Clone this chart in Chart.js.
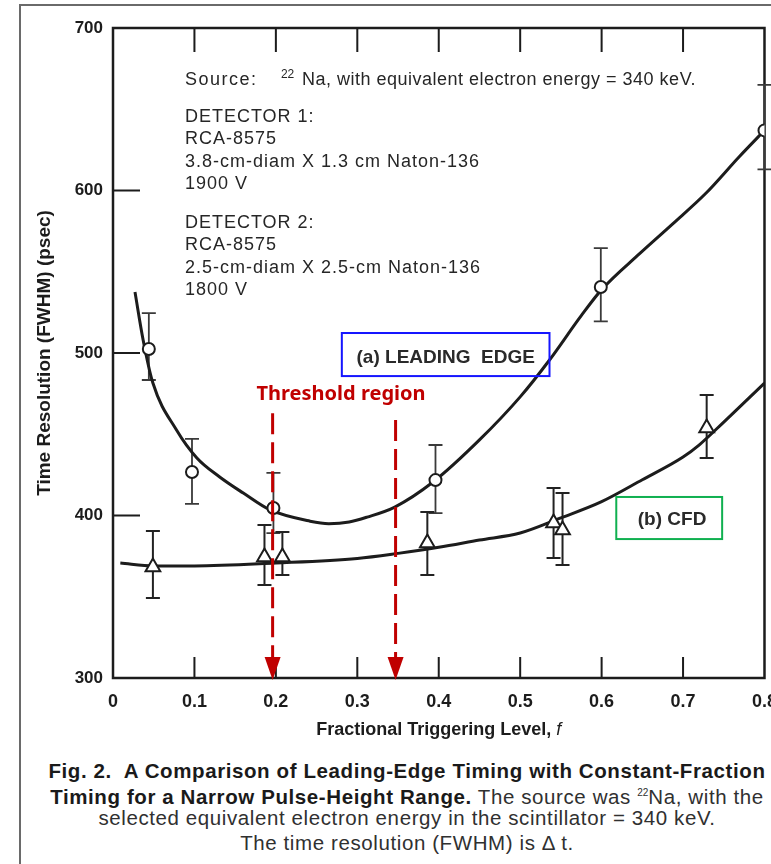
<!DOCTYPE html>
<html>
<head>
<meta charset="utf-8">
<script src="https://cdn.jsdelivr.net/npm/chart.js@4.4.1/dist/chart.umd.min.js"></script>
<style>
html, body { margin: 0; padding: 0; background: #fff; overflow: hidden; }
#page { position: relative; width: 771px; height: 864px; overflow: hidden; background: #fff; }
#frame { position: absolute; left: 19px; top: 4px; width: 800px; height: 900px; border-left: 2px solid #6a6a6a; border-top: 2px solid #6a6a6a; }
#wrap { position: absolute; left: 0; top: 0; width: 790px; height: 750px; }
.cap { position: absolute; left: 30px; width: 754px; text-align: center; white-space: nowrap;
  font-family: "Liberation Sans", Arial, sans-serif; font-size: 20.5px; line-height: 24px;
  letter-spacing: 0.6px; color: #303030; }
.cap b { color: #1a1a1a; }
.cap sup { font-size: 10px; vertical-align: 8px; line-height: 0; letter-spacing: 0; }
</style>
</head>
<body>
<div id="page">
  <div id="frame"></div>
  <div id="wrap"><canvas id="chart" width="790" height="750"></canvas></div>
  <div class="cap" style="top:759px"><b>Fig. 2.&nbsp; A Comparison of Leading-Edge Timing with Constant-Fraction</b></div>
  <div class="cap" style="top:785px"><b>Timing for a Narrow Pulse-Height Range.</b> The source was <sup>22</sup>Na, with the</div>
  <div class="cap" style="top:806px">selected equivalent electron energy in the scintillator = 340 keV.</div>
  <div class="cap" style="top:831px">The time resolution (FWHM) is &Delta; t.</div>
</div>
<script>
// axis ticks
const fTicks = [0, 0.1, 0.2, 0.3, 0.4, 0.5, 0.6, 0.7, 0.8];
const resTicks = [300, 400, 500, 600, 700];

// (a) leading edge - measured points with error bars (psec)
const leF = [0.044, 0.097, 0.197, 0.396, 0.599, 0.8];
const leRes = [502.5, 426.8, 404.6, 421.8, 540.6, 637];
const leLow = [483.4, 407.1, 389.2, 401.5, 519.5, 613];
const leHigh = [524.6, 447.1, 426.2, 443.4, 564.6, 665];

// (b) CFD - measured points with error bars (psec)
const cfdF = [0.049, 0.186, 0.208, 0.386, 0.541, 0.552, 0.729];
const cfdRes = [368.3, 374.5, 374.5, 383.1, 395.4, 391.1, 453.8];
const cfdLow = [349.2, 357.2, 363.4, 363.4, 373.8, 369.5, 435.4];
const cfdHigh = [390.5, 394.2, 389.8, 402.2, 416.9, 413.8, 474.2];

// fitted curves
const leCurveF = [0.027, 0.037, 0.049, 0.078, 0.103, 0.131, 0.16, 0.193, 0.242, 0.265, 0.29, 0.312, 0.346, 0.393, 0.45, 0.5, 0.536, 0.575, 0.6, 0.647, 0.688, 0.728, 0.769, 0.8];
const leCurveRes = [537.5, 508, 481.5, 452.6, 435.4, 423.7, 413.8, 403.4, 396.5, 395, 396, 399, 405.2, 420.6, 446.5, 473, 495.7, 523, 539, 561.3, 579.8, 598.3, 620.8, 637];
const cfdCurveF = [0.009, 0.05, 0.1, 0.2, 0.3, 0.35, 0.4, 0.45, 0.5, 0.55, 0.6, 0.65, 0.7, 0.72, 0.75, 0.8];
const cfdCurveRes = [370.8, 369, 369, 370.8, 373.6, 376.7, 380.4, 384.9, 389.2, 398.5, 408.5, 422, 436, 443.5, 457.5, 481.5];

const SANS = '"Liberation Sans", Arial, Helvetica, sans-serif';
const INK = '#1c1c1c';

function pts(xs, ys) {
    return xs.map((x, i) => ({ x: x, y: ys[i] }));
}

const framePlugin = {
    id: 'frame',
    beforeDatasetsDraw(chart) {
        const ctx = chart.ctx;
        const { left, right, top, bottom } = chart.chartArea;
        const xs = chart.scales.x, ys = chart.scales.y;
        ctx.save();
        ctx.strokeStyle = INK;
        ctx.lineWidth = 2.5;
        ctx.strokeRect(left, top, right - left, bottom - top);
        ctx.lineWidth = 2;
        ctx.beginPath();
        fTicks.slice(1, -1).forEach(v => {
            const x = xs.getPixelForValue(v);
            ctx.moveTo(x, bottom); ctx.lineTo(x, bottom - 21);
            ctx.moveTo(x, top); ctx.lineTo(x, top + 24);
        });
        resTicks.slice(1, -1).forEach(v => {
            const y = ys.getPixelForValue(v);
            ctx.moveTo(left, y); ctx.lineTo(left + 27, y);
        });
        ctx.stroke();

        // error bars
        const bars = (fx, lo, hi, w, col) => {
            ctx.strokeStyle = col;
            ctx.lineWidth = w;
            ctx.beginPath();
            fx.forEach((f, i) => {
                const x = xs.getPixelForValue(f);
                const y1 = ys.getPixelForValue(lo[i]), y2 = ys.getPixelForValue(hi[i]);
                ctx.moveTo(x, y1); ctx.lineTo(x, y2);
                ctx.moveTo(x - 7, y1); ctx.lineTo(x + 7, y1);
                ctx.moveTo(x - 7, y2); ctx.lineTo(x + 7, y2);
            });
            ctx.stroke();
        };
        bars(leF, leLow, leHigh, 1.8, '#3a3a3a');
        bars(cfdF, cfdLow, cfdHigh, 2, '#222');
        ctx.restore();
    },
    afterDatasetsDraw(chart) {
        const ctx = chart.ctx;
        const xs = chart.scales.x, ys = chart.scales.y;
        const X = v => xs.getPixelForValue(v), Y = v => ys.getPixelForValue(v);
        ctx.save();

        // description block
        ctx.fillStyle = '#262626';
        ctx.textBaseline = 'middle';
        ctx.textAlign = 'left';
        ctx.font = '18px ' + SANS;
        const x0 = X(0.0883);
        ctx.letterSpacing = '1.5px';
        ctx.fillText('Source:', x0, Y(668));
        ctx.letterSpacing = '0px';
        ctx.font = '12px ' + SANS;
        ctx.fillText('22', x0 + 96, Y(668) - 5);
        ctx.font = '18px ' + SANS;
        ctx.letterSpacing = '0.5px';
        ctx.fillText('Na, with equivalent electron energy = 340 keV.', x0 + 117, Y(668));
        ctx.letterSpacing = '1px';
        const lines = ['DETECTOR 1:', 'RCA-8575', '3.8-cm-diam X 1.3 cm Naton-136', '1900 V',
                       'DETECTOR 2:', 'RCA-8575', '2.5-cm-diam X 2.5-cm Naton-136', '1800 V'];
        const lineRes = [645.2, 631.7, 617.5, 604, 580, 566.5, 552.3, 538.8];
        lines.forEach((t, i) => ctx.fillText(t, x0, Y(lineRes[i])));
        ctx.letterSpacing = '0px';

        // labelled boxes
        ctx.lineWidth = 2;
        ctx.strokeStyle = '#1515ff';
        ctx.strokeRect(X(0.281), Y(512.3), X(0.536) - X(0.281), Y(485.8) - Y(512.3));
        ctx.strokeStyle = '#10b050';
        ctx.strokeRect(X(0.618), Y(411.4), X(0.748) - X(0.618), Y(385.5) - Y(411.4));
        ctx.fillStyle = '#2a2a2a';
        ctx.textAlign = 'center';
        ctx.font = 'bold 19px ' + SANS;
        ctx.fillText('(a) LEADING  EDGE', X(0.4086), Y(497));
        ctx.fillText('(b) CFD', X(0.6865), Y(397.5));

        // threshold region
        ctx.fillStyle = '#c00000';
        ctx.font = 'bold 20px "Noto Sans", sans-serif';
        ctx.fillText('Threshold region', X(0.280), Y(474.8));

        const arrow = (f, vTop) => {
            const x = X(f), yTop = Y(vTop), yTip = Y(300) + 2;
            ctx.strokeStyle = '#c00000';
            ctx.lineWidth = 3;
            ctx.setLineDash([21, 8]);
            ctx.beginPath();
            ctx.moveTo(x, yTop); ctx.lineTo(x, yTip - 22);
            ctx.stroke();
            ctx.setLineDash([]);
            ctx.beginPath();
            ctx.moveTo(x - 8, yTip - 23); ctx.lineTo(x + 8, yTip - 23); ctx.lineTo(x, yTip);
            ctx.closePath();
            ctx.fill();
        };
        arrow(0.196, 463);
        arrow(0.347, 458.8);

        ctx.restore();
    },
    afterDraw(chart) {
        const ctx = chart.ctx;
        const { left, right } = chart.chartArea;
        ctx.save();
        ctx.fillStyle = INK;
        ctx.textBaseline = 'middle';
        ctx.textAlign = 'left';
        const main = 'Fractional Triggering Level, ';
        ctx.font = 'bold 18px ' + SANS;
        const w1 = ctx.measureText(main).width;
        ctx.font = 'italic 18px ' + SANS;
        const w2 = ctx.measureText('f').width;
        const xs = (left + right) / 2 - (w1 + w2) / 2;
        ctx.font = 'bold 18px ' + SANS;
        ctx.fillText(main, xs, 730);
        ctx.font = 'italic 18px ' + SANS;
        ctx.fillText('f', xs + w1, 730);
        ctx.restore();
    }
};

new Chart(document.getElementById('chart'), {
    type: 'scatter',
    data: {
        datasets: [
            {
                type: 'line', data: pts(leCurveF, leCurveRes), order: 2,
                borderColor: INK, borderWidth: 3, pointRadius: 0, cubicInterpolationMode: 'monotone', fill: false
            },
            {
                type: 'line', data: pts(cfdCurveF, cfdCurveRes), order: 2,
                borderColor: INK, borderWidth: 3, pointRadius: 0, cubicInterpolationMode: 'monotone', fill: false
            },
            {
                data: pts(leF, leRes), order: 1, showLine: false,
                pointStyle: 'circle', pointRadius: 6, pointBackgroundColor: '#fff',
                pointBorderColor: INK, pointBorderWidth: 2
            },
            {
                data: pts(cfdF, cfdRes), order: 1, showLine: false,
                pointStyle: 'triangle', pointRadius: 8.5, pointBackgroundColor: '#fff',
                pointBorderColor: INK, pointBorderWidth: 2
            }
        ]
    },
    options: {
        responsive: false,
        animation: false,
        events: [],
        layout: { padding: { left: 0, top: 28, right: 25, bottom: 0 } },
        plugins: { legend: { display: false }, tooltip: { enabled: false } },
        scales: {
            x: {
                type: 'linear', min: 0, max: 0.8,
                afterBuildTicks: s => { s.ticks = fTicks.map(v => ({ value: v })); },
                afterFit: s => { s.height = 72; },
                grid: { display: false, drawTicks: false },
                border: { display: false },
                ticks: {
                    padding: 13, color: INK, maxRotation: 0,
                    font: { family: SANS, size: 18, weight: 'bold' },
                    callback: v => v === 0 ? '0' : v.toFixed(1)
                }
            },
            y: {
                min: 300, max: 700,
                afterBuildTicks: s => { s.ticks = resTicks.map(v => ({ value: v })); },
                afterFit: s => { s.width = 113; },
                grid: { display: false, drawTicks: false },
                border: { display: false },
                ticks: {
                    padding: 10, color: INK,
                    font: { family: SANS, size: 17, weight: 'bold' }
                },
                title: {
                    display: true, text: 'Time Resolution (FWHM) (psec)', color: INK,
                    font: { family: SANS, size: 19, weight: 'bold' },
                    padding: { top: 33, bottom: 0 }
                }
            }
        }
    },
    plugins: [framePlugin]
});
</script>
</body>
</html>
